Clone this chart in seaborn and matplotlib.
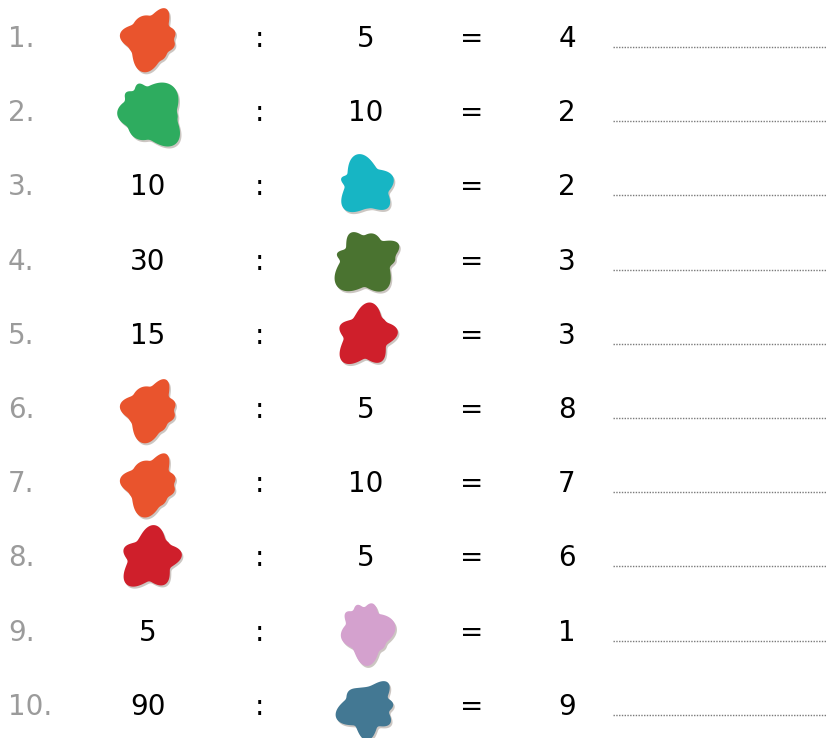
import numpy as np
import pandas as pd
import matplotlib
matplotlib.use("Agg")
import matplotlib.pyplot as plt
from matplotlib.path import Path
import seaborn as sns

# worksheet rows: None marks where a paint blob stands in for the number
left_vals = [None, None, "10", "30", "15", None, None, None, "5", "90"]
right_vals = ["5", "10", None, None, None, "5", "10", "5", None, None]
results = ["4", "2", "2", "3", "3", "8", "7", "6", "1", "9"]
blob_names = ["orange", "green", "cyan", "olive", "red", "orange", "orange", "red", "pink", "steel"]

blob_colors = {
    "orange": "#E9542D",
    "green": "#2EAC5F",
    "cyan": "#17B5C4",
    "olive": "#4A7330",
    "red": "#CF1F2B",
    "pink": "#D4A1CE",
    "steel": "#437893",
}

# each blob = round core plus lobes (angle in degrees, reach, width in degrees)
blob_lobes = {
    "orange": [(62, 1.0, 14), (110, 0.7, 26), (172, 0.88, 18), (205, 0.66, 14),
               (258, 0.98, 22), (300, 0.7, 18), (345, 0.74, 14), (15, 0.76, 14)],
    "green": [(50, 0.88, 28), (112, 0.8, 10), (140, 0.8, 10), (180, 0.82, 20),
              (240, 0.72, 24), (310, 1.0, 22), (350, 0.7, 16)],
    "cyan": [(105, 1.0, 22), (20, 0.85, 20), (318, 0.88, 17), (225, 0.9, 22),
             (160, 0.78, 9), (270, 0.62, 22)],
    "olive": [(28, 0.98, 14), (75, 0.76, 18), (118, 0.86, 15), (165, 0.8, 9),
              (222, 1.0, 24), (305, 0.9, 22), (5, 0.78, 10)],
    "red": [(82, 0.96, 20), (8, 0.92, 17), (300, 0.86, 18), (228, 1.0, 20),
            (160, 0.8, 15), (40, 0.7, 16)],
    "pink": [(78, 0.9, 13), (108, 0.88, 11), (135, 0.86, 12), (15, 0.9, 26),
             (272, 1.0, 19), (190, 0.76, 22), (320, 0.7, 16)],
    "steel": [(48, 0.98, 15), (5, 0.82, 13), (325, 0.88, 15), (272, 1.0, 16),
              (200, 0.95, 21), (138, 0.7, 15)],
}


def blob_path(lobes, core=0.58):
    t = np.linspace(0, 2 * np.pi, 360, endpoint=False)
    r = np.full_like(t, core)
    for ang, reach, width in lobes:
        d = np.angle(np.exp(1j * (t - np.radians(ang))))
        r = np.maximum(r, core + (reach - core) * np.exp(-d ** 2 / (2 * np.radians(width) ** 2)))
    w = np.ones(11) / 11
    r = np.convolve(np.concatenate([r[-5:], r, r[:5]]), w, mode="valid")
    verts = np.column_stack([r * np.cos(t), r * np.sin(t)])
    verts = np.vstack([verts, verts[:1]])
    return Path(verts, closed=True)


markers = {name: blob_path(lb) for name, lb in blob_lobes.items()}

W, H = 826, 738
row_y = [39 + 74.2 * i for i in range(10)]
col_label, col_left, col_colon, col_right, col_eq, col_res = 8, 148, 259, 366, 472, 567
line_x0, line_x1 = 613, 826

sns.set_theme(style="white")
plt.rcParams["font.family"] = ["DejaVu Sans"]

fig = plt.figure(figsize=(W / 100, H / 100), dpi=100)
ax = fig.add_axes([0, 0, 1, 1])
ax.set_xlim(0, W)
ax.set_ylim(H, 0)
ax.axis("off")

blobs = []
for i in range(10):
    if left_vals[i] is None:
        blobs.append({"x": col_left + 2, "y": row_y[i], "blob": blob_names[i]})
    if right_vals[i] is None:
        blobs.append({"x": col_right, "y": row_y[i], "blob": blob_names[i]})
df = pd.DataFrame(blobs)

# soft shadow then the blob itself
shadow = df.assign(x=df.x + 1.5, y=df.y + 2)
sns.scatterplot(data=shadow, x="x", y="y", style="blob", markers=markers, color="#9a8f86",
                s=2300, alpha=0.5, linewidth=0, legend=False, ax=ax)
sns.scatterplot(data=df, x="x", y="y", hue="blob", style="blob", markers=markers,
                palette=blob_colors, s=2300, linewidth=0, legend=False, ax=ax)

fs = 20
for i in range(10):
    y = row_y[i]
    ax.text(col_label, y, f"{i + 1}.", color="#9b9b9b", fontsize=fs, ha="left", va="center")
    if left_vals[i] is not None:
        ax.text(col_left, y, left_vals[i], color="black", fontsize=fs, ha="center", va="center")
    ax.text(col_colon, y, ":", color="black", fontsize=fs, ha="center", va="center")
    if right_vals[i] is not None:
        ax.text(col_right, y, right_vals[i], color="black", fontsize=fs, ha="center", va="center")
    ax.text(col_eq, y, "=", color="black", fontsize=fs, ha="center", va="center")
    ax.text(col_res, y, results[i], color="black", fontsize=fs, ha="center", va="center")
    ax.hlines(y + 8, line_x0, line_x1, colors="#7a7a7a", linewidth=1.0, linestyles=(0, (1, 1)))

fig.savefig("out.png", dpi=100)
